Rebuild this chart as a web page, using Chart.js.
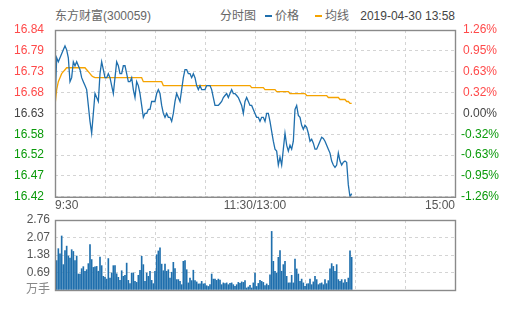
<!DOCTYPE html>
<html>
<head>
<meta charset="utf-8">
<script src="https://cdn.jsdelivr.net/npm/chart.js@4.4.1/dist/chart.umd.min.js"></script>
<style>
  body { margin: 0; width: 505px; height: 310px; background: #fff; overflow: hidden; position: relative;
         font-family: "Liberation Sans", Arial, "Noto Sans CJK SC", sans-serif; }
  .t { position: absolute; font-size: 12px; line-height: 14px; color: #666; white-space: nowrap; }
  .mark { position: absolute; width: 7px; height: 2px; }
  #priceBox { position: absolute; left: 0; top: 0; }
  #volBox { position: absolute; left: 0; top: 200px; }
</style>
</head>
<body>
<div class="t" style="left:55px;top:9px">东方财富(300059)</div>
<div class="t" style="left:220px;top:9px">分时图</div>
<div class="mark" style="left:265px;top:15px;background:#1f6fad"></div>
<div class="t" style="left:275px;top:9px">价格</div>
<div class="mark" style="left:315px;top:15px;background:#f5a300"></div>
<div class="t" style="left:325px;top:9px">均线</div>
<div class="t" style="right:50px;top:9px;color:#444">2019-04-30 13:58</div>

<div id="priceBox"><canvas id="priceCanvas" width="505" height="215"></canvas></div>
<div id="volBox"><canvas id="volCanvas" width="505" height="110"></canvas></div>

<script>
// axe du temps : minutes de seance (9:30-11:30 puis 13:00-15:00 = 240 min)
const gridMinutes = [0, 30, 60, 90, 120, 150, 180, 210, 240];
const timeLabels = ['9:30', '', '', '', '11:30/13:00', '', '', '', '15:00'];

// axes du prix
const priceMin = 16.42;
const priceMax = 16.84;
const priceLabels = ['16.42', '16.47', '16.52', '16.58', '16.63', '16.68', '16.73', '16.79', '16.84'];
const pctLabels = ['-1.26%', '-0.95%', '-0.63%', '-0.32%', '0.00%', '0.32%', '0.63%', '0.95%', '1.26%'];

// axe du volume (万手)
const volMax = 2.76;
const volLabels = ['万手', '0.69', '1.38', '2.07', '2.76'];

// prix minute par minute, 9:30 -> 13:58
const prices = [
  16.65, 16.77, 16.76, 16.77, 16.78, 16.79, 16.80, 16.79, 16.77, 16.71,
  16.72, 16.76, 16.75, 16.76, 16.75, 16.74, 16.72, 16.71, 16.70, 16.69,
  16.65, 16.61, 16.58, 16.63, 16.68, 16.67, 16.66, 16.73, 16.76, 16.74,
  16.72, 16.72, 16.73, 16.72, 16.70, 16.68, 16.72, 16.76, 16.75, 16.73,
  16.73, 16.75, 16.75, 16.73, 16.71, 16.71, 16.72, 16.69, 16.67, 16.71,
  16.70, 16.68, 16.65, 16.62, 16.63, 16.63, 16.64, 16.64, 16.66, 16.66,
  16.66, 16.68, 16.69, 16.68, 16.65, 16.63, 16.62, 16.63, 16.62, 16.62,
  16.61, 16.63, 16.66, 16.68, 16.67, 16.66, 16.69, 16.72, 16.74, 16.74,
  16.73, 16.73, 16.72, 16.73, 16.72, 16.70, 16.69, 16.70, 16.69, 16.69,
  16.69, 16.70, 16.70, 16.70, 16.69, 16.67, 16.65, 16.65, 16.65, 16.655,
  16.66, 16.67, 16.675, 16.68, 16.67, 16.68, 16.69, 16.68, 16.68, 16.675,
  16.67, 16.66, 16.65, 16.63, 16.66, 16.67, 16.66, 16.65, 16.65, 16.64,
  16.63, 16.62, 16.62, 16.61, 16.62, 16.62, 16.61, 16.63, 16.63, 16.61,
  16.585, 16.56, 16.54, 16.535, 16.50, 16.52, 16.50, 16.54, 16.58, 16.55,
  16.535, 16.55, 16.54, 16.56, 16.64, 16.65, 16.625, 16.62, 16.60, 16.59,
  16.60, 16.595, 16.58, 16.56, 16.565, 16.555, 16.54, 16.54, 16.55, 16.56,
  16.57, 16.567, 16.56, 16.55, 16.54, 16.53, 16.51, 16.50, 16.494, 16.50,
  16.53, 16.51, 16.50, 16.507, 16.51, 16.507, 16.45, 16.42, 16.428
];

// prix moyen (均线)
const avgPrices = [
  16.65, 16.69, 16.71, 16.72, 16.73, 16.735, 16.74, 16.745, 16.745, 16.745,
  16.745, 16.745, 16.745, 16.745, 16.745, 16.745, 16.745, 16.745, 16.745, 16.74,
  16.735, 16.73, 16.725, 16.722, 16.72, 16.72, 16.72, 16.72, 16.72, 16.72,
  16.72, 16.72, 16.72, 16.72, 16.72, 16.72, 16.72, 16.72, 16.72, 16.72,
  16.72, 16.72, 16.72, 16.72, 16.72, 16.72, 16.72, 16.72, 16.72, 16.72,
  16.72, 16.72, 16.72, 16.71, 16.71, 16.71, 16.71, 16.71, 16.71, 16.71,
  16.71, 16.71, 16.71, 16.71, 16.71, 16.70, 16.70, 16.70, 16.70, 16.70,
  16.70, 16.70, 16.70, 16.70, 16.70, 16.70, 16.70, 16.70, 16.70, 16.70,
  16.70, 16.70, 16.70, 16.70, 16.70, 16.70, 16.70, 16.70, 16.70, 16.70,
  16.70, 16.70, 16.70, 16.70, 16.70, 16.70, 16.70, 16.70, 16.70, 16.70,
  16.70, 16.70, 16.70, 16.70, 16.70, 16.70, 16.70, 16.70, 16.70, 16.70,
  16.70, 16.70, 16.70, 16.70, 16.70, 16.70, 16.70, 16.70, 16.695, 16.695,
  16.695, 16.695, 16.695, 16.695, 16.695, 16.695, 16.69, 16.69, 16.69, 16.69,
  16.69, 16.69, 16.69, 16.685, 16.685, 16.685, 16.685, 16.685, 16.685, 16.685,
  16.685, 16.68, 16.68, 16.68, 16.68, 16.68, 16.68, 16.68, 16.68, 16.68,
  16.68, 16.675, 16.675, 16.675, 16.675, 16.675, 16.675, 16.675, 16.675, 16.675,
  16.675, 16.675, 16.675, 16.675, 16.67, 16.67, 16.67, 16.67, 16.67, 16.67,
  16.67, 16.665, 16.665, 16.665, 16.665, 16.66, 16.66, 16.655, 16.655
];

// volume minute par minute (万手)
const volumes = [
  2.76, 1.16, 1.63, 1.43, 2.13, 1.00, 1.55, 1.73, 1.34, 1.26,
  1.59, 1.52, 1.16, 1.34, 0.63, 0.63, 0.84, 0.92, 0.74, 0.80,
  1.04, 1.79, 1.20, 0.89, 0.91, 0.93, 0.74, 1.30, 0.96, 0.54,
  0.50, 0.43, 1.24, 0.47, 0.67, 0.96, 0.96, 0.64, 0.50, 0.38,
  0.76, 0.54, 0.58, 1.06, 0.38, 0.25, 0.67, 0.67, 0.34, 0.30,
  0.58, 0.78, 1.33, 1.00, 0.34, 0.67, 0.54, 0.74, 0.38, 0.25,
  0.74, 1.39, 1.54, 1.66, 1.02, 0.76, 1.02, 0.74, 0.80, 0.47,
  0.70, 1.09, 0.84, 0.41, 0.41, 0.34, 0.21, 1.13, 1.16, 0.80,
  0.28, 0.47, 0.37, 0.78, 0.37, 0.32, 0.24, 0.24, 0.34, 0.24,
  0.25, 0.17, 0.14, 0.21, 0.63, 0.43, 0.43, 0.38, 0.43, 0.39,
  0.21, 0.28, 0.25, 0.28, 0.21, 0.26, 0.28, 0.21, 0.14, 0.21,
  0.30, 0.26, 0.32, 0.30, 0.37, 0.08, 0.12, 0.18, 0.08, 0.28,
  0.67, 0.14, 0.26, 0.38, 0.34, 0.30, 0.17, 0.24, 0.18, 0.60,
  2.31, 1.13, 0.74, 0.67, 1.29, 1.55, 0.74, 1.00, 1.13, 0.54,
  0.28, 0.28, 0.58, 0.28, 1.22, 0.83, 0.63, 0.34, 0.43, 0.28,
  0.14, 0.24, 0.25, 0.43, 0.21, 0.32, 0.54, 0.41, 0.21, 0.25,
  0.28, 0.21, 0.41, 0.25, 0.37, 0.83, 1.04, 0.93, 0.74, 1.00,
  0.41, 0.34, 0.41, 0.28, 0.41, 0.30, 0.47, 1.54, 1.29
];

// index de minute de chaque point (0 = 9:30)
const minutes = prices.map((_, i) => i);

const BLUE = '#1f6fad';
const ORANGE = '#f5a300';
const RED = '#ff4a4a';
const GREEN = '#0a9a0a';
const GRID = '#d4d4d4';
const FONT = { family: '"Liberation Sans", Arial, "Noto Sans CJK SC", sans-serif', size: 12 };

function evenTicks(min, max, n) {
  const out = [];
  for (let k = 0; k < n; k++) out.push({ value: min + (max - min) * k / (n - 1) });
  return out;
}

function levelColor(ctx) {
  if (ctx.index > 4) return RED;
  if (ctx.index < 4) return GREEN;
  return '#444';
}

// cadre gris autour de la zone de trace
const framePlugin = {
  id: 'frame',
  afterDatasetsDraw(chart) {
    const { ctx, chartArea: a } = chart;
    ctx.save();
    ctx.strokeStyle = '#8a8a8a';
    ctx.lineWidth = 1.4;
    ctx.strokeRect(a.left + 0.5, a.top + 0.5, a.right - a.left, a.bottom - a.top);
    ctx.restore();
  }
};

const timeAxis = (showLabels) => ({
  type: 'linear',
  min: 0,
  max: 240,
  offset: false,
  afterBuildTicks: s => { s.ticks = gridMinutes.map(v => ({ value: v })); },
  afterFit: s => { s.height = showLabels ? 15 : 0; },
  grid: { color: GRID, drawTicks: false, offset: false },
  border: { display: false, dash: [3, 3] },
  ticks: {
    display: showLabels,
    autoSkip: false,
    maxRotation: 0,
    align: 'inner',
    padding: 2,
    color: '#555',
    font: FONT,
    callback: (v, i) => timeLabels[i]
  }
});

new Chart(document.getElementById('priceCanvas'), {
  type: 'line',
  data: {
    datasets: [
      { label: '价格', data: minutes.map((m, i) => ({ x: m, y: prices[i] })),
        borderColor: BLUE, borderWidth: 1.3, pointRadius: 0, tension: 0 },
      { label: '均线', data: minutes.map((m, i) => ({ x: m, y: avgPrices[i] })),
        borderColor: ORANGE, borderWidth: 1.3, pointRadius: 0, tension: 0 }
    ]
  },
  options: {
    responsive: false,
    animation: false,
    layout: { padding: { top: 30, left: 0, right: 0, bottom: 0 } },
    plugins: { legend: { display: false }, tooltip: { enabled: false } },
    scales: {
      x: timeAxis(true),
      y: {
        position: 'left',
        min: priceMin,
        max: priceMax,
        afterBuildTicks: s => { s.ticks = evenTicks(priceMin, priceMax, priceLabels.length); },
        afterFit: s => { s.width = 55; },
        grid: { color: GRID, drawTicks: false },
        border: { display: false, dash: [3, 3] },
        ticks: { padding: 11, font: FONT, color: levelColor, callback: (v, i) => priceLabels[i] }
      },
      yr: {
        position: 'right',
        min: priceMin,
        max: priceMax,
        afterBuildTicks: s => { s.ticks = evenTicks(priceMin, priceMax, pctLabels.length); },
        afterFit: s => { s.width = 50; },
        grid: { display: false, drawTicks: false },
        border: { display: false },
        ticks: { padding: 6, crossAlign: 'center', font: FONT, color: levelColor, callback: (v, i) => pctLabels[i] }
      }
    }
  },
  plugins: [framePlugin]
});

new Chart(document.getElementById('volCanvas'), {
  type: 'bar',
  data: {
    datasets: [
      { label: '成交量', data: minutes.map((m, i) => ({ x: m, y: volumes[i] })),
        backgroundColor: BLUE, barThickness: 1 }
    ]
  },
  options: {
    responsive: false,
    animation: false,
    layout: { padding: { top: 20, left: 0, right: 50, bottom: 20 } },
    plugins: { legend: { display: false }, tooltip: { enabled: false } },
    scales: {
      x: timeAxis(false),
      y: {
        min: 0,
        max: volMax,
        afterBuildTicks: s => { s.ticks = evenTicks(0, volMax, volLabels.length); },
        afterFit: s => { s.width = 55; },
        grid: { color: GRID, drawTicks: false },
        border: { display: false, dash: [3, 3] },
        ticks: { padding: 5, font: FONT, color: c => c.index === 0 ? '#888' : '#555',
                 callback: (v, i) => volLabels[i] }
      }
    }
  },
  plugins: [framePlugin]
});
</script>
</body>
</html>
